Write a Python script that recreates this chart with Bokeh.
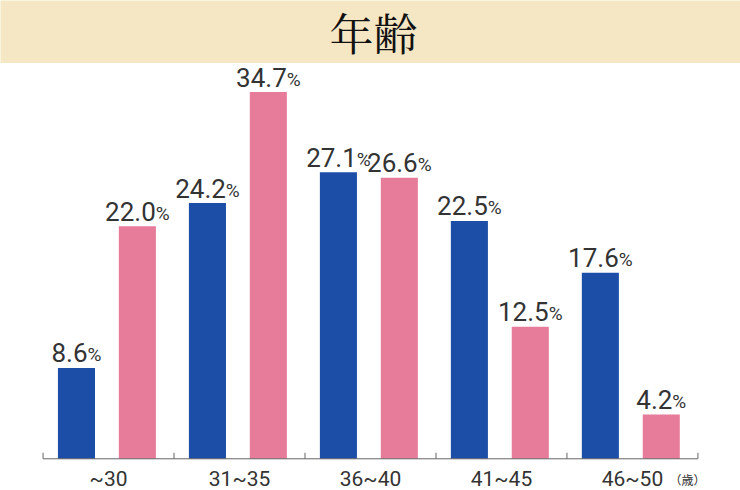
from bokeh.plotting import figure
from bokeh.models import ColumnDataSource, FactorRange, Range1d
from bokeh.transform import dodge
from bokeh.layouts import column
from bokeh.core.properties import value
from bokeh.embed import file_html
from bokeh.resources import INLINE

# ---- data ----
categories = ["~30", "31~35", "36~40", "41~45", "46~50"]
blue_values = [8.6, 24.2, 27.1, 22.5, 17.6]
pink_values = [22.0, 34.7, 26.6, 12.5, 4.2]
title_text = "年齢"
unit_text = "（歳）"

# ---- style ----
BLUE = "#1c4ea7"
PINK = "#e77b9a"
BEIGE = "#f6e7c4"
TEXT = "#333333"
AXIS = "#666666"
W = 740
HEAD_H = 63
CHART_H = 427
NUM_PX = 26
PCT_PX = 19
BLUE_OFF = -0.245
PINK_OFF = 0.22
BAR_W = 0.283


def num_width(s):
    return sum(0.263 if c == "." else 0.5615 for c in s) * NUM_PX


PCT_W = 0.73 * PCT_PX

# ---- header ----
header = figure(width=W, height=HEAD_H, x_range=(0, 1), y_range=(0, 1),
                toolbar_location=None, output_backend="svg", min_border=0,
                x_axis_location=None, y_axis_location=None)
header.grid.visible = False
header.outline_line_color = None
header.background_fill_color = BEIGE
header.border_fill_color = BEIGE
header.text(x=[0.504], y=[0.5], text=[title_text], text_align="center",
            text_baseline="middle", text_font=value("Noto Serif CJK JP"),
            text_font_size="44px", text_color="#111111")

# ---- chart ----
p = figure(width=W, height=CHART_H,
           x_range=FactorRange(*categories, range_padding=0.325, range_padding_units="absolute"),
           y_range=Range1d(-3.0, 37.4), toolbar_location=None, output_backend="svg",
           min_border=0, x_axis_location=None, y_axis_location=None)
p.grid.visible = False
p.outline_line_color = None
p.background_fill_color = "white"


def make_source(vals):
    nums = [f"{v:.1f}" for v in vals]
    return ColumnDataSource(dict(
        cat=categories,
        val=vals,
        num=nums,
        pct=["%"] * len(vals),
        pct_off=[(num_width(n) - PCT_W) / 2 for n in nums],
    ))


for vals, color, off in ((blue_values, BLUE, BLUE_OFF), (pink_values, PINK, PINK_OFF)):
    src = make_source(vals)
    xs = dodge("cat", off, range=p.x_range)
    p.vbar(x=xs, top="val", width=BAR_W, bottom=0, source=src,
           fill_color=color, line_color=None)
    p.text(x=xs, y="val", text="num", source=src, text_align="center",
           text_baseline="middle", x_offset=-PCT_W / 2, y_offset=-15,
           text_font=value("Roboto"), text_font_size=f"{NUM_PX}px", text_color=TEXT)
    p.text(x=xs, y="val", text="pct", source=src, text_align="left",
           text_baseline="middle", x_offset="pct_off", y_offset=-13,
           text_font=value("Roboto"), text_font_size=f"{PCT_PX}px", text_color=TEXT)

# x axis: baseline, boundary ticks, category labels
n = len(categories)
bounds = list(range(n + 1))
p.segment(x0=[0], y0=[0], x1=[n], y1=[0], line_color=AXIS, line_width=1)
p.segment(x0=bounds, y0=[0] * len(bounds), x1=bounds, y1=[0.57] * len(bounds),
          line_color=AXIS, line_width=1)
cat_src = ColumnDataSource(dict(cat=categories))
p.text(x="cat", y=0, text="cat", source=cat_src, text_align="center",
       text_baseline="middle", y_offset=20,
       text_font=value("Roboto"), text_font_size="21px", text_color=TEXT)
p.text(x=[categories[-1]], y=[0], text=[unit_text], text_align="center",
       text_baseline="middle", x_offset=55, y_offset=21,
       text_font=value("Noto Sans CJK JP"), text_font_size="12px", text_color=TEXT)

layout = column(header, p, spacing=0)
open("out.html", "w").write(file_html(layout, INLINE))
